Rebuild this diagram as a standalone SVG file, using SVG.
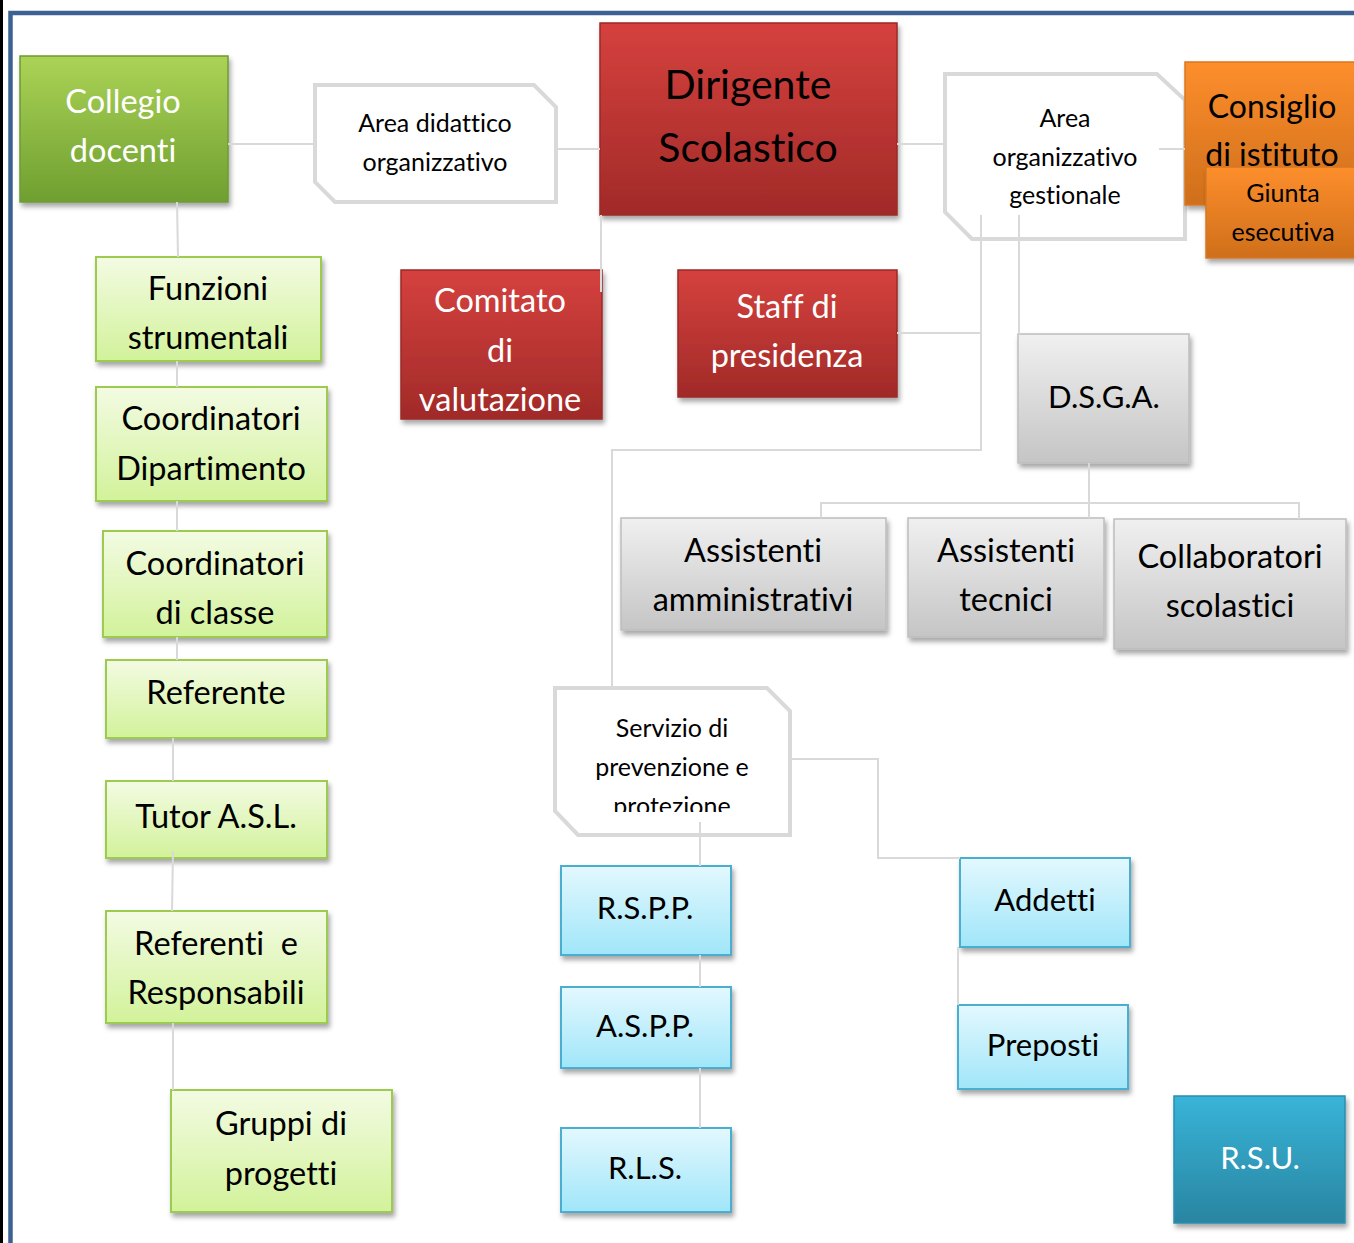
<svg xmlns="http://www.w3.org/2000/svg" width="1354" height="1243" viewBox="0 0 1354 1243">
<defs>
<linearGradient id="gRed" x1="0" y1="0" x2="0" y2="1"><stop offset="0" stop-color="#d5413e"/><stop offset="1" stop-color="#a12a28"/></linearGradient>
<linearGradient id="gGreen" x1="0" y1="0" x2="0" y2="1"><stop offset="0" stop-color="#abd356"/><stop offset="1" stop-color="#6f9f30"/></linearGradient>
<linearGradient id="gLime" x1="0" y1="0" x2="0" y2="1"><stop offset="0" stop-color="#f3fbe3"/><stop offset="1" stop-color="#d2f29a"/></linearGradient>
<linearGradient id="gGray" x1="0" y1="0" x2="0" y2="1"><stop offset="0" stop-color="#f0f0f0"/><stop offset="1" stop-color="#c5c5c5"/></linearGradient>
<linearGradient id="gBlue" x1="0" y1="0" x2="0" y2="1"><stop offset="0" stop-color="#e3f8fe"/><stop offset="1" stop-color="#a0e6f9"/></linearGradient>
<linearGradient id="gOrange" x1="0" y1="0" x2="0" y2="1"><stop offset="0" stop-color="#fd8e2c"/><stop offset="1" stop-color="#cf6f1b"/></linearGradient>
<linearGradient id="gTeal" x1="0" y1="0" x2="0" y2="1"><stop offset="0" stop-color="#38b4d8"/><stop offset="1" stop-color="#2985a1"/></linearGradient>
<filter id="sh" x="-10%" y="-10%" width="125%" height="130%"><feDropShadow dx="2" dy="4" stdDeviation="2.5" flood-color="#000" flood-opacity="0.35"/></filter>
<clipPath id="clipProt"><rect x="540" y="690" width="260" height="122"/></clipPath>
</defs>
<style>
text{font-family:Lato,"Open Sans","Liberation Sans",sans-serif;text-anchor:middle;font-variant-ligatures:none;font-feature-settings:"liga" 0,"clig" 0;}
.red{fill:url(#gRed);stroke:#9c2a28;stroke-width:1.5;filter:url(#sh);}
.green{fill:url(#gGreen);stroke:#6e9a33;stroke-width:1.5;filter:url(#sh);}
.lime{fill:url(#gLime);stroke:#9ccb4f;stroke-width:2;filter:url(#sh);}
.gray{fill:url(#gGray);stroke:#bdbdbd;stroke-width:1.5;filter:url(#sh);}
.blue{fill:url(#gBlue);stroke:#4aaecf;stroke-width:2;filter:url(#sh);}
.orange{fill:url(#gOrange);stroke:#d9771f;stroke-width:1.5;filter:url(#sh);}
.teal{fill:url(#gTeal);stroke:#2a8fae;stroke-width:1.5;filter:url(#sh);}
.snip{fill:#fff;stroke:#d9d9d9;stroke-width:4;}
.w{fill:#fff;}
.k{fill:#000;}
.t32{font-size:32.5px;}
.t31{font-size:31px;}
.t25{font-size:25px;}
.conn{fill:none;stroke:#d9d9d9;stroke-width:2;}
</style>
<rect x="0" y="0" width="1354" height="1243" fill="#fff"/>
<g id="frame">
<line x1="1.5" y1="0" x2="1.5" y2="1243" stroke="#000" stroke-width="3"/>
<polyline points="10.5,1243 10.5,13 1354,13" fill="none" stroke="#3d6192" stroke-width="4.5"/>
</g>

<g id="collegio"><rect class="green" x="20" y="56" width="208" height="146"/>
<text class="w t32" x="123" y="113">Collegio</text><text class="w t32" x="123" y="162">docenti</text></g>

<g id="area-didattico"><polygon class="snip" points="315,85 534,85 556,107 556,202 335,202 315,182"/>
<text class="k t25" x="435" y="132">Area didattico</text><text class="k t25" x="435" y="171">organizzativo</text></g>

<g id="dirigente"><rect class="red" x="600" y="23" width="297" height="192"/>
<text class="k" font-size="41" x="748" y="99">Dirigente</text><text class="k" font-size="41" x="748" y="162">Scolastico</text></g>

<g id="area-org"><polygon class="snip" points="945,74 1157,74 1185,100 1185,239 972,239 945,212"/>
<text class="k t25" x="1065" y="127">Area</text><text class="k t25" x="1065" y="166">organizzativo</text><text class="k t25" x="1065" y="204">gestionale</text></g>

<g id="consiglio"><rect class="orange" x="1185" y="62" width="175" height="143"/>
<text class="k" font-size="32" x="1272" y="118">Consiglio</text><text class="k" font-size="32" x="1272" y="166">di istituto</text></g>

<g id="giunta"><rect class="orange" x="1206" y="167" width="154" height="91"/>
<text class="k" font-size="25" x="1283" y="202">Giunta</text><text class="k" font-size="25" x="1283" y="241">esecutiva</text></g>

<g id="comitato"><rect class="red" x="401" y="270" width="201" height="149"/>
<text class="w t32" x="500" y="312">Comitato</text><text class="w t32" x="500" y="362">di</text><text class="w t32" x="500" y="411">valutazione</text></g>

<g id="staff"><rect class="red" x="678" y="270" width="219" height="127"/>
<text class="w t32" x="787" y="318">Staff di</text><text class="w t32" x="787" y="367">presidenza</text></g>

<g id="dsga"><rect class="gray" x="1018" y="334" width="171" height="129"/>
<text class="k t31" x="1104" y="408">D.S.G.A.</text></g>

<g id="ass-amm"><rect class="gray" x="621" y="518" width="265" height="112"/>
<text class="k t32" x="753" y="562">Assistenti</text><text class="k t32" x="753" y="611">amministrativi</text></g>

<g id="ass-tec"><rect class="gray" x="908" y="518" width="196" height="119"/>
<text class="k t32" x="1006" y="562">Assistenti</text><text class="k t32" x="1006" y="611">tecnici</text></g>

<g id="collab"><rect class="gray" x="1114" y="519" width="232" height="130"/>
<text class="k t32" x="1230" y="568">Collaboratori</text><text class="k t32" x="1230" y="617">scolastici</text></g>

<g id="funzioni"><rect class="lime" x="96" y="257" width="225" height="104"/>
<text class="k t32" x="208" y="300">Funzioni</text><text class="k t32" x="208" y="349">strumentali</text></g>

<g id="coord-dip"><rect class="lime" x="96" y="387" width="231" height="114"/>
<text class="k t32" x="211" y="430">Coordinatori</text><text class="k t32" x="211" y="480">Dipartimento</text></g>

<g id="coord-classe"><rect class="lime" x="103" y="531" width="224" height="106"/>
<text class="k t32" x="215" y="575">Coordinatori</text><text class="k t32" x="215" y="624">di classe</text></g>

<g id="referente"><rect class="lime" x="106" y="660" width="221" height="78"/>
<text class="k t32" x="216" y="704">Referente</text></g>

<g id="tutor"><rect class="lime" x="106" y="781" width="221" height="77"/>
<text class="k t32" x="216" y="828">Tutor A.S.L.</text></g>

<g id="referenti"><rect class="lime" x="106" y="911" width="221" height="112"/>
<text class="k t32" x="216" y="955" xml:space="preserve">Referenti  e</text><text class="k t32" x="216" y="1004">Responsabili</text></g>

<g id="gruppi"><rect class="lime" x="171" y="1090" width="221" height="122"/>
<text class="k t32" x="281" y="1135">Gruppi di</text><text class="k t32" x="281" y="1185">progetti</text></g>

<g id="servizio"><polygon class="snip" points="555,688 767,688 790,711 790,835 578,835 555,811"/>
<g clip-path="url(#clipProt)"><text class="k t25" x="672" y="737">Servizio di</text><text class="k t25" x="672" y="776">prevenzione e</text><text class="k t25" x="672" y="815">protezione</text></g></g>

<g id="rspp"><rect class="blue" x="561" y="866" width="170" height="89"/>
<text class="k t31" x="645" y="919">R.S.P.P.</text></g>

<g id="aspp"><rect class="blue" x="561" y="987" width="170" height="81"/>
<text class="k t31" x="645" y="1037">A.S.P.P.</text></g>

<g id="rls"><rect class="blue" x="561" y="1128" width="170" height="84"/>
<text class="k t31" x="645" y="1179">R.L.S.</text></g>

<g id="addetti"><rect class="blue" x="960" y="858" width="170" height="89"/>
<text class="k t31" x="1045" y="911">Addetti</text></g>

<g id="preposti"><rect class="blue" x="958" y="1005" width="170" height="84"/>
<text class="k t31" x="1043" y="1056">Preposti</text></g>

<g id="rsu"><rect class="teal" x="1174" y="1096" width="171" height="127"/>
<text class="w t31" x="1260" y="1169">R.S.U.</text></g>

<g id="connectors" class="conn">
<line x1="228" y1="144" x2="314" y2="144"/>
<line x1="556" y1="149" x2="600" y2="149"/>
<line x1="897" y1="144" x2="944" y2="144"/>
<line x1="1159" y1="149" x2="1185" y2="149"/>
<line x1="177" y1="202" x2="178" y2="257"/>
<line x1="177" y1="361" x2="177" y2="387"/>
<line x1="177" y1="501" x2="177" y2="531"/>
<line x1="177" y1="637" x2="177" y2="660"/>
<line x1="173" y1="738" x2="173" y2="781"/>
<line x1="173" y1="851" x2="172" y2="911"/>
<line x1="173" y1="1023" x2="173" y2="1090"/>
<line x1="601" y1="215" x2="601" y2="292"/>
<polyline points="981,215 981,450 612,450 612,687"/>
<line x1="897" y1="333" x2="981" y2="333"/>
<line x1="1019" y1="215" x2="1019" y2="334"/>
<line x1="1089" y1="463" x2="1089" y2="518"/>
<polyline points="821,518 821,503 1299,503 1299,519"/>
<polyline points="791,759 878,759 878,858 960,858"/>
<line x1="700" y1="822" x2="700" y2="866"/>
<line x1="700" y1="955" x2="700" y2="987"/>
<line x1="700" y1="1068" x2="700" y2="1128"/>
<line x1="958" y1="947" x2="958" y2="1005"/>
</g>
</svg>
